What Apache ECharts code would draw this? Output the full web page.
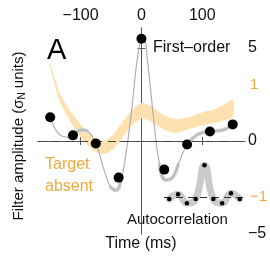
<!DOCTYPE html>
<html>
<head>
<meta charset="utf-8">
<script src="https://cdn.jsdelivr.net/npm/echarts@6/dist/echarts.min.js"></script>
<style>
  html, body { margin: 0; padding: 0; background: #fff; }
  #chart { width: 270px; height: 256px; }
</style>
</head>
<body>
<div id="chart"></div>
<script>
// First-order filter: kernel sample points (black dots)
const dotTimes = [-150, -112.5, -75, -37.5, 0, 37.5, 75, 112.5, 150];
const dotValues = [1.27, 0.3, -0.14, -1.97, 5.49, -1.54, -0.19, 0.51, 0.89];

// smooth gray trace behind the dots
const grayTimes = [-150, -140, -130, -120, -110, -100, -90, -80, -70, -60, -50, -42, -35, -25, -15, -5, 3, 10, 20, 30, 40, 50, 60, 70, 80, 90, 100, 112, 125, 137, 150];
const grayValues = [1.27, 0.55, 0.25, 0.2, 0.32, 0.6, 0.55, 0.2, -0.6, -1.7, -2.5, -2.65, -2.3, -0.6, 2.0, 4.8, 5.6, 4.3, 1.2, -1.3, -2.1, -2.0, -1.3, -0.5, 0.0, 0.3, 0.45, 0.5, 0.55, 0.62, 0.89];
// where the trace shows a wider light band (null = thin only)
const grayBandValues = [null, null, null, 0.2, 0.32, 0.6, 0.55, null, null, null, -2.5, -2.65, -2.3, null, null, null, null, null, null, -1.3, -2.1, -2.0, -1.3, null, 0.0, 0.3, 0.45, 0.5, 0.55, 0.62, 0.89];

// Target absent band (orange axis units)
const orangeTimes = [-150, -135, -120, -105, -90, -75, -60, -45, -30, -15, 0, 15, 30, 45, 60, 75, 90, 105, 120, 135, 150];
const orangeLower = [1.31, 0.73, 0.41, 0.14, -0.06, -0.2, -0.23, -0.13, 0.08, 0.28, 0.4, 0.35, 0.25, 0.16, 0.15, 0.2, 0.25, 0.29, 0.32, 0.37, 0.43];
const orangeUpper = [1.39, 0.87, 0.59, 0.36, 0.18, 0.04, 0.01, 0.13, 0.36, 0.56, 0.68, 0.63, 0.51, 0.42, 0.39, 0.42, 0.47, 0.53, 0.57, 0.65, 0.73];

// Autocorrelation inset
const acLags = [0, 1, 2, 3, 4, 5, 6, 7, 8];
const acValues = [-0.06, 0.09, -0.19, -0.06, 1.0, -0.06, -0.19, 0.12, -0.06];

const xTicks = [-100, 0, 100];
const blackTicks = [5, 0, -5];
const orangeTicks = [1, -1];

const FONT = 'Liberation Sans, Arial, Helvetica, sans-serif';
const ORANGE = '#f2a93b';
const BAND = '#fde2b0';
const AXIS = '#555';

const minus = v => String(v).replace('-', '\u2212');
const pairs = (xs, ys) => xs.map((x, i) => [x, ys[i]]);

const chart = echarts.init(document.getElementById('chart'), null, { renderer: 'canvas' });

// band polygon: upper edge left->right, lower edge back
const renderBand = (params, api) => {
  const pts = [];
  orangeTimes.forEach((t, i) => pts.push(api.coord([t, orangeUpper[i]])));
  for (let i = orangeTimes.length - 1; i >= 0; i--) {
    pts.push(api.coord([orangeTimes[i], orangeLower[i]]));
  }
  return { type: 'polygon', shape: { points: pts, smooth: 0.3 }, style: { fill: BAND } };
};

chart.setOption({
  animation: false,
  grid: [
    { left: 38, right: 25, top: 28, bottom: 22 },
    { left: 164, right: 25, top: 159, bottom: 43 }
  ],
  xAxis: [
    {
      type: 'value', gridIndex: 0, position: 'top', min: -170, max: 170,
      axisLine: { show: true, lineStyle: { color: AXIS } },
      axisTick: { show: true, inside: true, length: 4, customValues: xTicks, lineStyle: { color: AXIS } },
      axisLabel: { customValues: xTicks, formatter: minus, color: '#111', fontSize: 16, fontFamily: FONT, margin: 4 },
      splitLine: { show: false }
    },
    {
      type: 'value', gridIndex: 0, position: 'bottom', min: -170, max: 170,
      axisLine: { show: true, lineStyle: { color: AXIS } },
      axisTick: { show: true, inside: true, length: 4, customValues: xTicks, lineStyle: { color: AXIS } },
      axisLabel: { show: false },
      splitLine: { show: false }
    },
    {
      type: 'value', gridIndex: 1, min: -0.6, max: 8.6, show: false
    }
  ],
  yAxis: [
    {
      type: 'value', gridIndex: 0, position: 'left', min: -5, max: 6.07,
      axisLine: { show: true, lineStyle: { color: AXIS } },
      axisTick: { show: true, inside: true, length: 4, customValues: [5, 0], lineStyle: { color: AXIS } },
      axisLabel: { show: false },
      splitLine: { show: false }
    },
    {
      type: 'value', gridIndex: 0, position: 'right', min: -5, max: 6.07,
      axisLine: { show: true, lineStyle: { color: AXIS } },
      axisTick: { show: true, inside: true, length: 4, customValues: [5, 0], lineStyle: { color: AXIS } },
      axisLabel: { customValues: blackTicks, formatter: minus, color: '#111', fontSize: 16, fontFamily: FONT, margin: 3 },
      splitLine: { show: false }
    },
    {
      type: 'value', gridIndex: 0, position: 'right', min: -5 / 3, max: 6.07 / 3,
      axisLine: { show: false },
      axisTick: { show: false },
      axisLabel: { customValues: orangeTicks, formatter: minus, color: ORANGE, fontSize: 15, fontFamily: FONT, margin: 5 },
      splitLine: { show: false }
    },
    {
      type: 'value', gridIndex: 1, min: -0.5, max: 1.2, show: false
    }
  ],
  series: [
    {
      name: 'Target absent', type: 'custom', xAxisIndex: 0, yAxisIndex: 2,
      renderItem: renderBand, clip: true, z: 1,
      data: [[0, 0]]
    },
    {
      name: 'grayBand', type: 'line', xAxisIndex: 0, yAxisIndex: 0,
      smooth: true, symbol: 'none', connectNulls: false, z: 2,
      lineStyle: { color: '#d2d2d2', width: 4, cap: 'round' },
      data: pairs(grayTimes, grayBandValues)
    },
    {
      name: 'grayTrace', type: 'line', xAxisIndex: 0, yAxisIndex: 0,
      smooth: true, symbol: 'none', z: 3,
      lineStyle: { color: '#b0b0b0', width: 1.2 },
      markLine: {
        silent: true, symbol: 'none', label: { show: false },
        lineStyle: { color: '#444', type: [8, 6], width: 1.2 },
        data: [{ yAxis: 0 }]
      },
      data: pairs(grayTimes, grayValues)
    },
    {
      name: 'First-order', type: 'scatter', xAxisIndex: 0, yAxisIndex: 0,
      symbolSize: 10, z: 5, itemStyle: { color: '#000', opacity: 1 },
      data: pairs(dotTimes, dotValues)
    },
    {
      name: 'acBand', type: 'line', xAxisIndex: 2, yAxisIndex: 3,
      smooth: true, symbol: 'none', z: 3,
      lineStyle: { color: '#cbcbcb', width: 7, cap: 'round' },
      markLine: {
        silent: true, symbol: 'none', label: { show: false },
        lineStyle: { color: '#333', type: [7, 5], width: 1.2 },
        data: [{ yAxis: 0 }]
      },
      data: pairs(acLags, acValues)
    },
    {
      name: 'Autocorrelation', type: 'scatter', xAxisIndex: 2, yAxisIndex: 3,
      symbolSize: 4.5, z: 5, itemStyle: { color: '#000', opacity: 1 },
      data: pairs(acLags, acValues)
    }
  ],
  graphic: [
    { type: 'text', left: 47, top: 36, z: 100, style: { text: 'A', fontSize: 29, fontFamily: FONT, fill: '#000' } },
    { type: 'text', x: 153, y: 48, z: 100, style: { text: 'First\u2013order', fontSize: 16, fontFamily: FONT, fill: '#111', textVerticalAlign: 'middle' } },
    { type: 'text', x: 45, y: 165, z: 100, style: { text: 'Target', fontSize: 16, fontFamily: FONT, fill: ORANGE, textVerticalAlign: 'middle' } },
    { type: 'text', x: 45, y: 187, z: 100, style: { text: 'absent', fontSize: 16, fontFamily: FONT, fill: ORANGE, textVerticalAlign: 'middle' } },
    { type: 'text', x: 127, y: 220, z: 100, style: { text: 'Autocorrelation', fontSize: 15, fontFamily: FONT, fill: '#111', textVerticalAlign: 'middle' } },
    { type: 'text', x: 141, y: 244, z: 100, style: { text: 'Time (ms)', fontSize: 16, fontFamily: FONT, fill: '#111', textAlign: 'center', textVerticalAlign: 'middle' } },
    {
      type: 'text', x: 19, y: 136, rotation: Math.PI / 2, z: 100,
      style: {
        text: 'Filter amplitude (\u03c3{sub|N} units)', fontSize: 15, fontFamily: FONT, fill: '#111',
        textAlign: 'center', textVerticalAlign: 'middle',
        rich: { sub: { fontSize: 10, fontFamily: FONT, fill: '#111', padding: [7, 0, 0, 0] } }
      }
    }
  ]
});
</script>
</body>
</html>
